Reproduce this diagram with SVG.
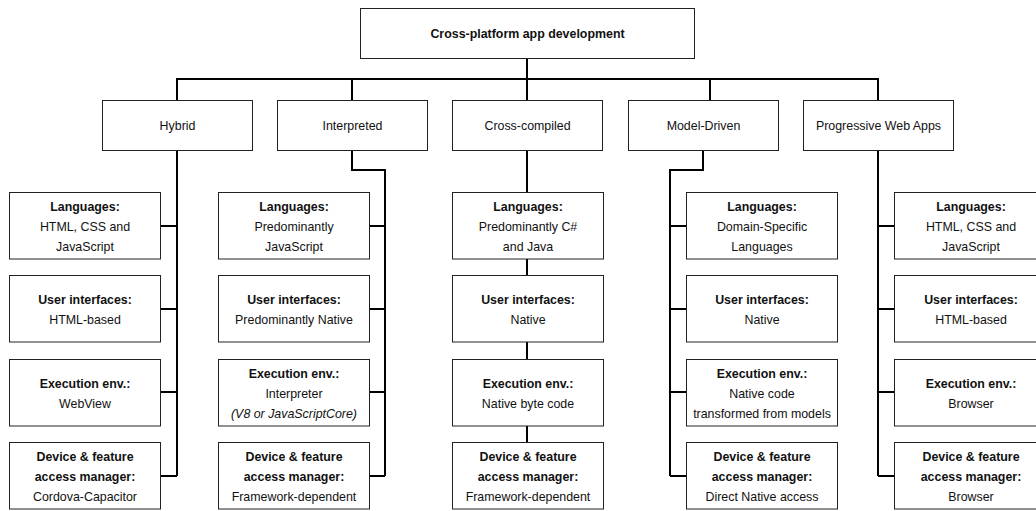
<svg xmlns="http://www.w3.org/2000/svg" width="1036" height="511" viewBox="0 0 1036 511">
  <style>
    .box { fill: #ffffff; stroke: #222222; stroke-width: 1; }
    .wire { fill: none; stroke: #000000; stroke-width: 2; }
    text { font-family: "Liberation Sans", Arial, Helvetica, sans-serif; font-size: 12.4px; fill: #111111; text-anchor: middle; }
    .b { font-weight: bold; }
    .i { font-style: italic; }
  </style>
  <rect width="1036" height="511" fill="#ffffff"/>

  <!-- connectors -->
  <g id="connectors">
    <path class="wire" d="M527 58 V100"/>
    <path class="wire" d="M177 100 V79 H878 V100"/>
    <path class="wire" d="M352 79 V100"/>
    <path class="wire" d="M710 79 V100"/>
    <!-- Hybrid -->
    <path class="wire" d="M177 150 V476 M161 226 H177 M161 309 H177 M161 392 H177 M161 476 H177"/>
    <!-- Interpreted -->
    <path class="wire" d="M352 150 V170 H385 V476 M369 226 H385 M369 309 H385 M369 392 H385 M369 476 H385"/>
    <!-- Cross-compiled -->
    <path class="wire" d="M527 150 V192.5 M527 259 V275.5 M527 342 V359.5 M527 426 V442.5"/>
    <!-- Model-Driven -->
    <path class="wire" d="M703 150 V170 H670 V476 M670 226 H686.5 M670 309 H686.5 M670 392 H686.5 M670 476 H686.5"/>
    <!-- Progressive Web Apps -->
    <path class="wire" d="M878 150 V476 M878 226 H894.5 M878 309 H894.5 M878 392 H894.5 M878 476 H894.5"/>
  </g>

  <!-- root -->
  <g id="root">
    <rect class="box" x="360.5" y="8.5" width="334" height="50"/>
    <text class="b" x="527.5" y="38">Cross-platform app development</text>
  </g>

  <!-- categories -->
  <g id="hybrid">
    <rect class="box" x="102.5" y="100.5" width="150" height="50"/>
    <text x="177.5" y="130">Hybrid</text>
  </g>
  <g id="interpreted">
    <rect class="box" x="277.5" y="100.5" width="150" height="50"/>
    <text x="352.5" y="130">Interpreted</text>
  </g>
  <g id="cross-compiled">
    <rect class="box" x="452.5" y="100.5" width="150" height="50"/>
    <text x="527.5" y="130">Cross-compiled</text>
  </g>
  <g id="model-driven">
    <rect class="box" x="628.5" y="100.5" width="150" height="50"/>
    <text x="703.5" y="130">Model-Driven</text>
  </g>
  <g id="pwa">
    <rect class="box" x="803.5" y="100.5" width="150" height="50"/>
    <text x="878.5" y="130">Progressive Web Apps</text>
  </g>

  <!-- Hybrid details -->
  <g id="hybrid-languages">
    <rect class="box" x="9.5" y="192.5" width="151" height="66.5"/>
    <text class="b" x="85" y="211">Languages:</text>
    <text x="85" y="231">HTML, CSS and</text>
    <text x="85" y="251">JavaScript</text>
  </g>
  <g id="hybrid-ui">
    <rect class="box" x="9.5" y="275.5" width="151" height="66.5"/>
    <text class="b" x="85" y="304">User interfaces:</text>
    <text x="85" y="324">HTML-based</text>
  </g>
  <g id="hybrid-exec">
    <rect class="box" x="9.5" y="359.5" width="151" height="66.5"/>
    <text class="b" x="85" y="388">Execution env.:</text>
    <text x="85" y="408">WebView</text>
  </g>
  <g id="hybrid-access">
    <rect class="box" x="9.5" y="442.5" width="151" height="66.5"/>
    <text class="b" x="85" y="461">Device &amp; feature</text>
    <text class="b" x="85" y="481">access manager:</text>
    <text x="85" y="501">Cordova-Capacitor</text>
  </g>

  <!-- Interpreted details -->
  <g id="interpreted-languages">
    <rect class="box" x="218.5" y="192.5" width="151" height="66.5"/>
    <text class="b" x="294" y="211">Languages:</text>
    <text x="294" y="231">Predominantly</text>
    <text x="294" y="251">JavaScript</text>
  </g>
  <g id="interpreted-ui">
    <rect class="box" x="218.5" y="275.5" width="151" height="66.5"/>
    <text class="b" x="294" y="304">User interfaces:</text>
    <text x="294" y="324">Predominantly Native</text>
  </g>
  <g id="interpreted-exec">
    <rect class="box" x="218.5" y="359.5" width="151" height="66.5"/>
    <text class="b" x="294" y="378">Execution env.:</text>
    <text x="294" y="398">Interpreter</text>
    <text class="i" x="294" y="418">(V8 or JavaScriptCore)</text>
  </g>
  <g id="interpreted-access">
    <rect class="box" x="218.5" y="442.5" width="151" height="66.5"/>
    <text class="b" x="294" y="461">Device &amp; feature</text>
    <text class="b" x="294" y="481">access manager:</text>
    <text x="294" y="501">Framework-dependent</text>
  </g>

  <!-- Cross-compiled details -->
  <g id="cross-languages">
    <rect class="box" x="452.5" y="192.5" width="151" height="66.5"/>
    <text class="b" x="528" y="211">Languages:</text>
    <text x="528" y="231">Predominantly C#</text>
    <text x="528" y="251">and Java</text>
  </g>
  <g id="cross-ui">
    <rect class="box" x="452.5" y="275.5" width="151" height="66.5"/>
    <text class="b" x="528" y="304">User interfaces:</text>
    <text x="528" y="324">Native</text>
  </g>
  <g id="cross-exec">
    <rect class="box" x="452.5" y="359.5" width="151" height="66.5"/>
    <text class="b" x="528" y="388">Execution env.:</text>
    <text x="528" y="408">Native byte code</text>
  </g>
  <g id="cross-access">
    <rect class="box" x="452.5" y="442.5" width="151" height="66.5"/>
    <text class="b" x="528" y="461">Device &amp; feature</text>
    <text class="b" x="528" y="481">access manager:</text>
    <text x="528" y="501">Framework-dependent</text>
  </g>

  <!-- Model-Driven details -->
  <g id="model-languages">
    <rect class="box" x="686.5" y="192.5" width="151" height="66.5"/>
    <text class="b" x="762" y="211">Languages:</text>
    <text x="762" y="231">Domain-Specific</text>
    <text x="762" y="251">Languages</text>
  </g>
  <g id="model-ui">
    <rect class="box" x="686.5" y="275.5" width="151" height="66.5"/>
    <text class="b" x="762" y="304">User interfaces:</text>
    <text x="762" y="324">Native</text>
  </g>
  <g id="model-exec">
    <rect class="box" x="686.5" y="359.5" width="151" height="66.5"/>
    <text class="b" x="762" y="378">Execution env.:</text>
    <text x="762" y="398">Native code</text>
    <text x="762" y="418">transformed from models</text>
  </g>
  <g id="model-access">
    <rect class="box" x="686.5" y="442.5" width="151" height="66.5"/>
    <text class="b" x="762" y="461">Device &amp; feature</text>
    <text class="b" x="762" y="481">access manager:</text>
    <text x="762" y="501">Direct Native access</text>
  </g>

  <!-- Progressive Web Apps details -->
  <g id="pwa-languages">
    <rect class="box" x="894.5" y="192.5" width="152" height="66.5"/>
    <text class="b" x="971" y="211">Languages:</text>
    <text x="971" y="231">HTML, CSS and</text>
    <text x="971" y="251">JavaScript</text>
  </g>
  <g id="pwa-ui">
    <rect class="box" x="894.5" y="275.5" width="152" height="66.5"/>
    <text class="b" x="971" y="304">User interfaces:</text>
    <text x="971" y="324">HTML-based</text>
  </g>
  <g id="pwa-exec">
    <rect class="box" x="894.5" y="359.5" width="152" height="66.5"/>
    <text class="b" x="971" y="388">Execution env.:</text>
    <text x="971" y="408">Browser</text>
  </g>
  <g id="pwa-access">
    <rect class="box" x="894.5" y="442.5" width="152" height="66.5"/>
    <text class="b" x="971" y="461">Device &amp; feature</text>
    <text class="b" x="971" y="481">access manager:</text>
    <text x="971" y="501">Browser</text>
  </g>
</svg>
